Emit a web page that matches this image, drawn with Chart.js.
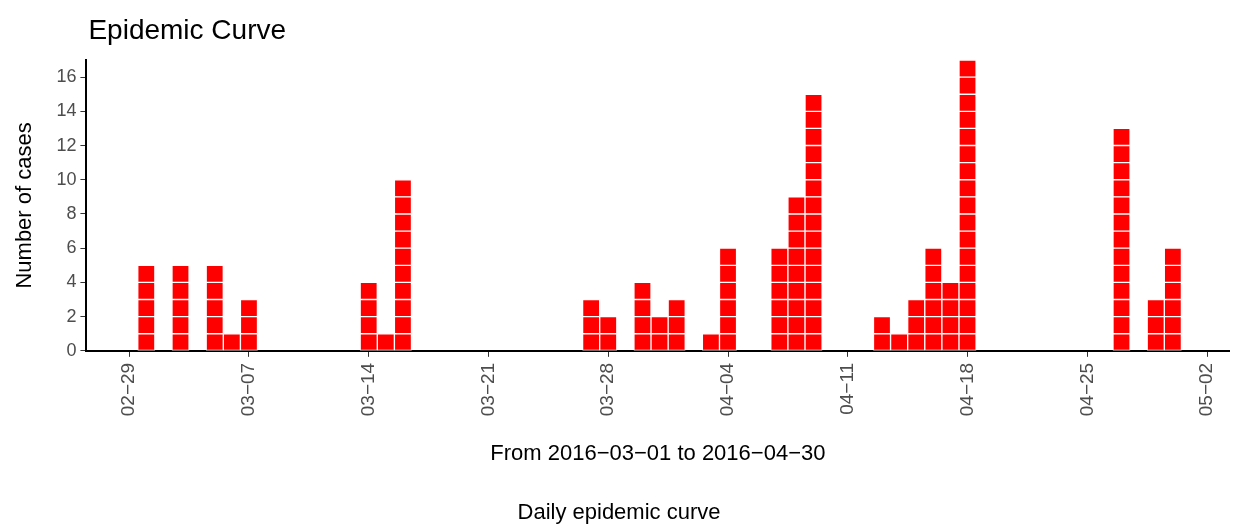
<!DOCTYPE html>
<html>
<head>
<meta charset="utf-8">
<script src="https://cdn.jsdelivr.net/npm/chart.js@4"></script>
<style>
  body { margin: 0; background: #fff; }
  #wrap { width: 1236px; height: 532px; }
</style>
</head>
<body>
<div id="wrap"><canvas id="chart"></canvas></div>
<script>
const dates = ["03-01","03-03","03-05","03-06","03-07","03-14","03-15","03-16",
  "03-27","03-28","03-30","03-31","04-01","04-03","04-04","04-07","04-08","04-09",
  "04-13","04-14","04-15","04-16","04-17","04-18","04-27","04-29","04-30"];
const counts = [5,5,5,1,3,4,1,10,3,2,4,2,3,1,6,6,9,15,2,1,3,6,4,17,13,3,6];
const tickLabels = ["02−29","03−07","03−14","03−21","03−28","04−04","04−11","04−18","04−25","05−02"];
const yTicks = [0,2,4,6,8,10,12,14,16];

const start = Date.UTC(2016, 1, 29);
const dayIndex = d => {
  const [m, dd] = d.split("-").map(Number);
  return Math.round((Date.UTC(2016, m - 1, dd) - start) / 86400000);
};
const xs = dates.map(dayIndex);
const maxCount = Math.max(...counts);

// one stacked dataset per case so each case is its own tile
const datasets = [];
for (let k = 1; k <= maxCount; k++) {
  datasets.push({
    data: xs.map((x, i) => ({ x: x, y: counts[i] >= k ? 1 : 0 })),
    backgroundColor: '#ff0000',
    borderColor: '#ffffff',
    borderWidth: 1,
    borderSkipped: false,
    barPercentage: 1,
    categoryPercentage: 1
  });
}

// title drawn over the plot's left edge, like ggplot
const titlePlugin = {
  id: 'plotTitle',
  afterDraw(chart) {
    const c = chart.ctx;
    c.save();
    c.fillStyle = '#000';
    c.font = '28px "Liberation Sans"';
    c.textBaseline = 'alphabetic';
    c.fillText('Epidemic Curve', chart.chartArea.left + 2, 39);
    c.restore();
  }
};

new Chart(document.getElementById('chart'), {
  type: 'bar',
  data: { datasets: datasets },
  plugins: [titlePlugin],
  options: {
    responsive: true,
    maintainAspectRatio: false,
    animation: false,
    layout: { padding: { left: 8, right: 6, top: 60, bottom: 6 } },
    plugins: {
      legend: { display: false },
      tooltip: { enabled: false },
      subtitle: {
        display: true, text: 'Daily epidemic curve', position: 'bottom',
        color: '#000', font: { family: 'Liberation Sans', size: 22 },
        padding: { top: 28, bottom: 0 }
      }
    },
    scales: {
      x: {
        type: 'linear', stacked: true, offset: false,
        min: -2.5, max: 64.3,
        afterBuildTicks: ax => { ax.ticks = tickLabels.map((_, i) => ({ value: i * 7 })); },
        ticks: {
          autoSkip: false, maxRotation: 90, minRotation: 90, padding: 6,
          color: '#4d4d4d', font: { family: 'Liberation Sans', size: 19 },
          callback: v => tickLabels[v / 7]
        },
        grid: { display: true, offset: false, drawOnChartArea: false, tickLength: 6, tickColor: '#333' },
        border: { display: true, color: '#000', width: 2 },
        title: {
          display: true, text: 'From 2016−03−01 to 2016−04−30',
          color: '#000', font: { family: 'Liberation Sans', size: 22 }, padding: { top: 19 }
        }
      },
      y: {
        stacked: true, min: 0, max: 17,
        afterBuildTicks: ax => { ax.ticks = yTicks.map(v => ({ value: v })); },
        ticks: { color: '#4d4d4d', font: { family: 'Liberation Sans', size: 18 }, padding: 4 },
        grid: { display: true, offset: false, drawOnChartArea: false, tickLength: 6, tickColor: '#333' },
        border: { display: true, color: '#000', width: 2 },
        title: {
          display: true, text: 'Number of cases',
          color: '#000', font: { family: 'Liberation Sans', size: 22 }, padding: { bottom: 14 }
        }
      }
    }
  }
});
</script>
</body>
</html>
